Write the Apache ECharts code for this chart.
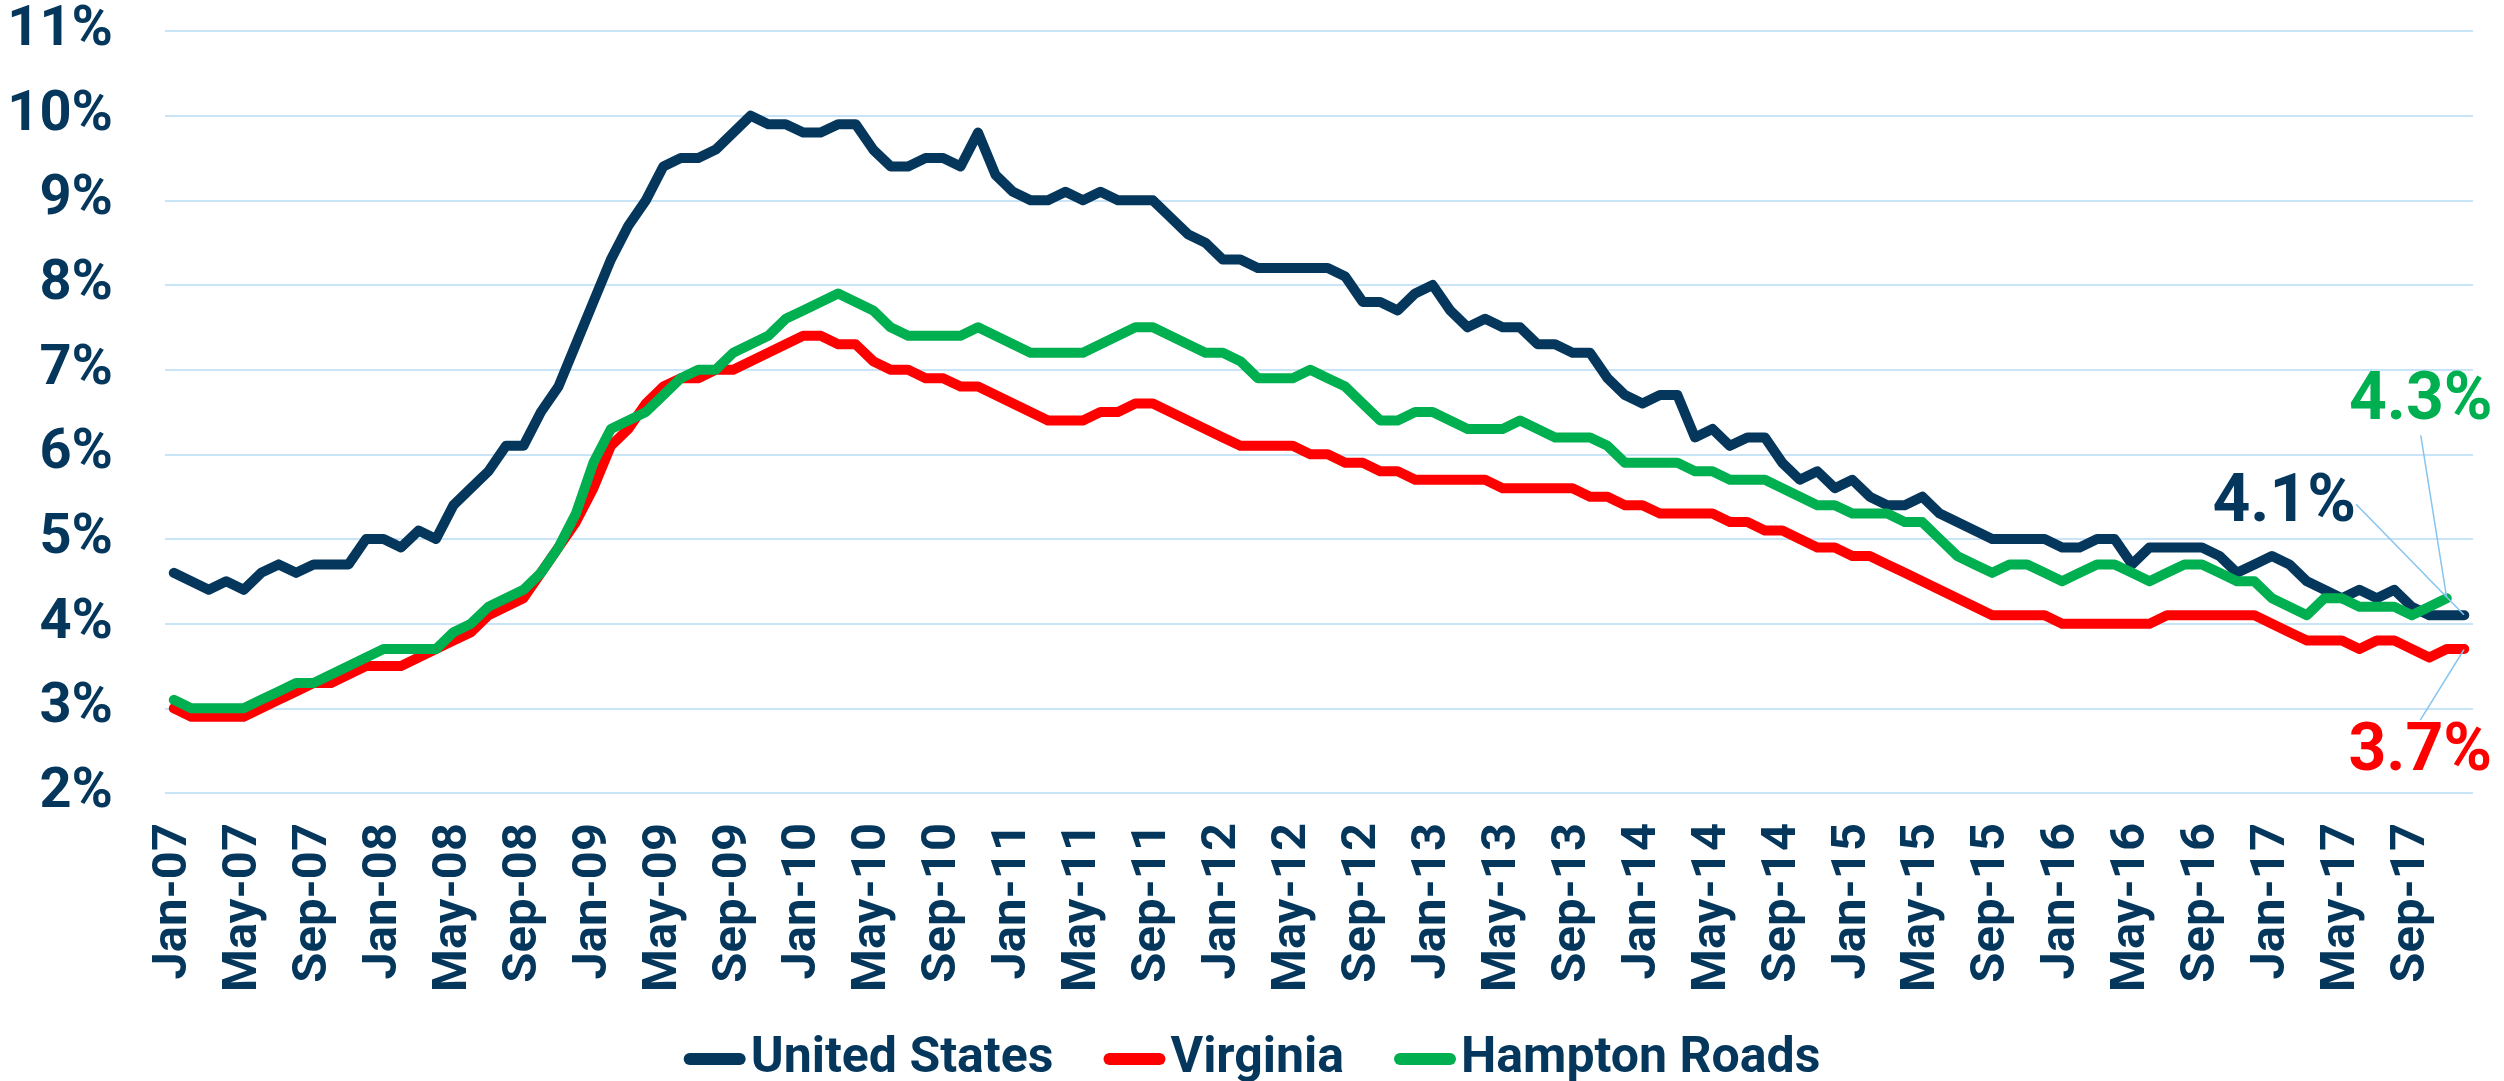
<!DOCTYPE html>
<html>
<head>
<meta charset="utf-8">
<title>Unemployment rate</title>
<script src="https://cdn.jsdelivr.net/npm/echarts@6.0.0/dist/echarts.min.js"></script>
<style>
  html, body { margin: 0; padding: 0; background: #fff; }
  .w_chart { width: 2504px; height: 1081px; }
</style>
</head>
<body>
<div class="line_unemployment"><div class="w_chart"></div></div>
<script>
// 月份与年份 -> 类目轴
var monthNames = ["Jan", "Feb", "Mar", "Apr", "May", "Jun", "Jul", "Aug", "Sep", "Oct", "Nov", "Dec"];
var years = ["07", "08", "09", "10", "11", "12", "13", "14", "15", "16", "17"];
var months = [];
years.forEach(function(y) {
  monthNames.forEach(function(m) {
    months.push(m + "-" + y);
  });
});

// 失业率 (%)，2007-01 起按月
var unitedStates = [
  4.6, 4.5, 4.4, 4.5, 4.4, 4.6, 4.7, 4.6, 4.7, 4.7, 4.7, 5.0,
  5.0, 4.9, 5.1, 5.0, 5.4, 5.6, 5.8, 6.1, 6.1, 6.5, 6.8, 7.3,
  7.8, 8.3, 8.7, 9.0, 9.4, 9.5, 9.5, 9.6, 9.8, 10.0, 9.9, 9.9,
  9.8, 9.8, 9.9, 9.9, 9.6, 9.4, 9.4, 9.5, 9.5, 9.4, 9.8, 9.3,
  9.1, 9.0, 9.0, 9.1, 9.0, 9.1, 9.0, 9.0, 9.0, 8.8, 8.6, 8.5,
  8.3, 8.3, 8.2, 8.2, 8.2, 8.2, 8.2, 8.1, 7.8, 7.8, 7.7, 7.9,
  8.0, 7.7, 7.5, 7.6, 7.5, 7.5, 7.3, 7.3, 7.2, 7.2, 6.9, 6.7,
  6.6, 6.7, 6.7, 6.2, 6.3, 6.1, 6.2, 6.2, 5.9, 5.7, 5.8, 5.6,
  5.7, 5.5, 5.4, 5.4, 5.5, 5.3, 5.2, 5.1, 5.0, 5.0, 5.0, 5.0,
  4.9, 4.9, 5.0, 5.0, 4.7, 4.9, 4.9, 4.9, 4.9, 4.8, 4.6, 4.7,
  4.8, 4.7, 4.5, 4.4, 4.3, 4.4, 4.3, 4.4, 4.2, 4.1, 4.1, 4.1
];
var virginia = [
  3.0, 2.9, 2.9, 2.9, 2.9, 3.0, 3.1, 3.2, 3.3, 3.3, 3.4, 3.5,
  3.5, 3.5, 3.6, 3.7, 3.8, 3.9, 4.1, 4.2, 4.3, 4.6, 4.9, 5.2,
  5.6, 6.1, 6.3, 6.6, 6.8, 6.9, 6.9, 7.0, 7.0, 7.1, 7.2, 7.3,
  7.4, 7.4, 7.3, 7.3, 7.1, 7.0, 7.0, 6.9, 6.9, 6.8, 6.8, 6.7,
  6.6, 6.5, 6.4, 6.4, 6.4, 6.5, 6.5, 6.6, 6.6, 6.5, 6.4, 6.3,
  6.2, 6.1, 6.1, 6.1, 6.1, 6.0, 6.0, 5.9, 5.9, 5.8, 5.8, 5.7,
  5.7, 5.7, 5.7, 5.7, 5.6, 5.6, 5.6, 5.6, 5.6, 5.5, 5.5, 5.4,
  5.4, 5.3, 5.3, 5.3, 5.3, 5.2, 5.2, 5.1, 5.1, 5.0, 4.9, 4.9,
  4.8, 4.8, 4.7, 4.6, 4.5, 4.4, 4.3, 4.2, 4.1, 4.1, 4.1, 4.1,
  4.0, 4.0, 4.0, 4.0, 4.0, 4.0, 4.1, 4.1, 4.1, 4.1, 4.1, 4.1,
  4.0, 3.9, 3.8, 3.8, 3.8, 3.7, 3.8, 3.8, 3.7, 3.6, 3.7, 3.7
];
// Hampton Roads 到 2017-11 为止
var hamptonRoads = [
  3.1, 3.0, 3.0, 3.0, 3.0, 3.1, 3.2, 3.3, 3.3, 3.4, 3.5, 3.6,
  3.7, 3.7, 3.7, 3.7, 3.9, 4.0, 4.2, 4.3, 4.4, 4.6, 4.9, 5.3,
  5.9, 6.3, 6.4, 6.5, 6.7, 6.9, 7.0, 7.0, 7.2, 7.3, 7.4, 7.6,
  7.7, 7.8, 7.9, 7.8, 7.7, 7.5, 7.4, 7.4, 7.4, 7.4, 7.5, 7.4,
  7.3, 7.2, 7.2, 7.2, 7.2, 7.3, 7.4, 7.5, 7.5, 7.4, 7.3, 7.2,
  7.2, 7.1, 6.9, 6.9, 6.9, 7.0, 6.9, 6.8, 6.6, 6.4, 6.4, 6.5,
  6.5, 6.4, 6.3, 6.3, 6.3, 6.4, 6.3, 6.2, 6.2, 6.2, 6.1, 5.9,
  5.9, 5.9, 5.9, 5.8, 5.8, 5.7, 5.7, 5.7, 5.6, 5.5, 5.4, 5.4,
  5.3, 5.3, 5.3, 5.2, 5.2, 5.0, 4.8, 4.7, 4.6, 4.7, 4.7, 4.6,
  4.5, 4.6, 4.7, 4.7, 4.6, 4.5, 4.6, 4.7, 4.7, 4.6, 4.5, 4.5,
  4.3, 4.2, 4.1, 4.3, 4.3, 4.2, 4.2, 4.2, 4.1, 4.2, 4.3
];

(function() {
  var myChart = echarts.init(document.querySelector(".line_unemployment .w_chart"));

  var navy = "#05375c";
  var leader = "#86c5f0";

  // 只给最后一个点加标签
  function withEndLabel(arr, color) {
    return arr.map(function(v, i) {
      if (i !== arr.length - 1) return v;
      return {
        value: v,
        label: {
          show: true,
          position: "inside",
          formatter: function(p) { return p.value.toFixed(1) + "%"; },
          color: color,
          fontFamily: "Roboto",
          fontWeight: "bold",
          fontSize: 66
        },
        labelLine: {
          show: true,
          lineStyle: { color: leader, width: 1.5 }
        }
      };
    });
  }

  function lineSeries(name, arr, color, dx, dy) {
    return {
      name: name,
      type: "line",
      data: withEndLabel(arr, color),
      symbol: "circle",
      symbolSize: 1,
      showSymbol: true,
      itemStyle: { color: color },
      lineStyle: { color: color, width: 10, cap: "round", join: "round" },
      labelLayout: { dx: dx, dy: dy },
      emphasis: { disabled: true }
    };
  }

  var option = {
    animation: false,
    backgroundColor: "#fff",
    grid: {
      left: 165,
      right: 31,
      top: 31,
      bottom: 288,
      containLabel: false
    },
    legend: {
      top: 1026,
      left: "center",
      itemWidth: 62,
      itemHeight: 12,
      itemGap: 50,
      icon: "path://M6,0 H56 A6,6 0 0 1 56,12 H6 A6,6 0 0 1 6,0 Z",
      textStyle: {
        color: navy,
        fontFamily: "Roboto",
        fontWeight: "bold",
        fontSize: 50,
        lineHeight: 56
      },
      data: ["United States", "Virginia", "Hampton Roads"]
    },
    xAxis: {
      type: "category",
      data: months,
      boundaryGap: true,
      axisLine: { show: false },
      axisTick: { show: false },
      axisLabel: {
        interval: 3,
        rotate: 90,
        margin: 30,
        color: navy,
        fontFamily: "Roboto",
        fontWeight: "bold",
        fontSize: 49
      },
      splitLine: { show: false }
    },
    yAxis: {
      type: "value",
      min: 2,
      max: 11,
      interval: 1,
      axisLine: { show: false },
      axisTick: { show: false },
      axisLabel: {
        formatter: "{value}%",
        margin: 52,
        color: navy,
        fontFamily: "Roboto",
        fontWeight: "bold",
        fontSize: 56
      },
      splitLine: {
        lineStyle: { color: "#c9e4f6", width: 2 }
      }
    },
    series: [
      lineSeries("United States", unitedStates, navy, -180, -111),
      lineSeries("Virginia", virginia, "#ff0000", -44, 104),
      lineSeries("Hampton Roads", hamptonRoads, "#00b050", -26, -196)
    ]
  };

  myChart.setOption(option);
  window.addEventListener("resize", function() {
    myChart.resize();
  });
})();
</script>
</body>
</html>
